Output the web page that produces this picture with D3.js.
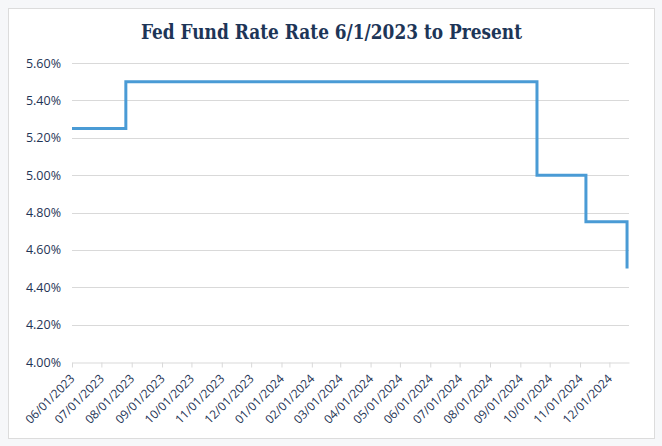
<!DOCTYPE html>
<html><head><meta charset="utf-8">
<script src="https://cdn.jsdelivr.net/npm/d3@7"></script>
<style>
html,body{margin:0;padding:0;background:#f6f7f9;}
svg{display:block;}
</style></head>
<body>
<script>
const title = "Fed Fund Rate Rate 6/1/2023 to Present";
const rateDates = ["2023-06-01","2023-07-26","2024-09-18","2024-11-07","2024-12-19"];
const rateValues = [5.25, 5.50, 5.00, 4.75, 4.50];
const domainStart = "2023-06-01";
const domainEnd = "2024-12-21";
const xTickLabels = ["06/01/2023","07/01/2023","08/01/2023","09/01/2023","10/01/2023","11/01/2023","12/01/2023","01/01/2024","02/01/2024","03/01/2024","04/01/2024","05/01/2024","06/01/2024","07/01/2024","08/01/2024","09/01/2024","10/01/2024","11/01/2024","12/01/2024"];
const yTicks = [4.0,4.2,4.4,4.6,4.8,5.0,5.2,5.4,5.6];

(function(){
const W=662,H=446;
const parse=d3.timeParse("%Y-%m-%d");
const parseTick=d3.timeParse("%m/%d/%Y");
const data=rateDates.map((d,i)=>({date:parse(d),value:rateValues[i]}));

const svg=d3.select("body").append("svg").attr("width",W).attr("height",H);
svg.append("rect").attr("x",8.5).attr("y",8.5).attr("width",646).attr("height",430)
  .attr("fill","#fff").attr("stroke","#dcdcdc");

const mL=72,mR=629,mT=63,mB=362;
const x=d3.scaleTime().domain([parse(domainStart),parse(domainEnd)]).range([mL,mR]);
const y=d3.scaleLinear().domain([4.0,5.6]).range([mB,mT]);

svg.append("text").attr("x",141).attr("y",39)
  .attr("font-family","'DejaVu Serif',serif").attr("font-stretch","condensed").attr("font-weight","bold")
  .attr("font-size",20).attr("fill","#1d3557")
  .attr("textLength",381).attr("lengthAdjust","spacingAndGlyphs").text(title);

const fontFam="'Open Sans',sans-serif", col="#1f3556";

svg.append("g").selectAll("line").data(yTicks.slice(1)).join("line")
  .attr("x1",mL).attr("x2",mR).attr("y1",d=>Math.round(y(d))+0.5).attr("y2",d=>Math.round(y(d))+0.5)
  .attr("stroke","#d9d9d9").attr("stroke-width",1);

const yAxis=svg.append("g").attr("transform",`translate(${mL-11},0)`)
  .call(d3.axisLeft(y).tickValues(yTicks).tickSize(0).tickFormat(d=>d.toFixed(2)+"%"));
yAxis.select(".domain").remove();
yAxis.selectAll("text").attr("font-family",fontFam).attr("font-size",12.5).attr("fill",col).attr("x",0);

const xTicks=xTickLabels.map(s=>parseTick(s));
const xAxis=svg.append("g").attr("transform",`translate(0,${Math.round(mB)+0.5})`)
  .call(d3.axisBottom(x).tickValues(xTicks).tickSize(5).tickSizeOuter(0).tickFormat((d,i)=>xTickLabels[i]));
xAxis.select(".domain").attr("stroke","#d9d9d9");
xAxis.selectAll(".tick line").attr("stroke","#d9d9d9");
xAxis.selectAll("text").attr("font-family",fontFam).attr("font-size",12).attr("fill",col)
  .attr("text-anchor","end").attr("transform","translate(0,14) rotate(-45)").attr("dy","0.35em").attr("y",0).attr("x",0);

const line=d3.line().x(d=>x(d.date)).y(d=>y(d.value)).curve(d3.curveStepAfter);
svg.append("path").datum(data).attr("d",line).attr("fill","none")
  .attr("stroke","#4a9bd5").attr("stroke-width",3);
})();
</script>
</body></html>
